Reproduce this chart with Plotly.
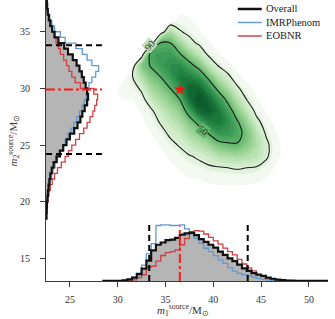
import numpy as np
import plotly.graph_objects as go

# ---------------- data ----------------
bin_width = 0.5
# m1 (primary source mass) marginal histogram, left bin edges 28.5 .. 51.5
m1_bins = [28.5 + 0.5 * i for i in range(47)]
m1_overall = [0.01, 0.01, 0.02, 0.02, 0.05, 0.15, 0.3, 0.6, 1.1, 1.8,
              2.7, 3.2, 3.4, 3.6, 3.65, 3.8, 4.1, 4.2, 4.25, 4.05,
              3.7, 3.45, 3.2, 2.95, 2.6, 2.3, 2.0, 1.75, 1.45, 1.12,
              0.9, 0.7, 0.55, 0.45, 0.3, 0.2, 0.12, 0.07, 0.04, 0.03,
              0.02, 0.02, 0.01, 0.01, 0.01, 0.01, 0.01]
m1_imr = [0.01, 0.01, 0.02, 0.03, 0.06, 0.15, 0.35, 0.7, 1.4, 2.4,
          3.3, 4.9, 4.95, 4.95, 4.9, 4.9, 4.95, 4.6, 4.3, 3.77,
          3.33, 2.89, 2.59, 2.24, 1.86, 1.56, 1.18, 0.88, 0.68, 0.55,
          0.45, 0.35, 0.24, 0.15, 0.1, 0.06, 0.03, 0.02, 0.01, 0.01,
          0.01, 0.01, 0, 0, 0, 0, 0]
m1_eob = [0, 0, 0.01, 0.01, 0.02, 0.05, 0.1, 0.3, 0.55, 1.2,
          1.3, 1.75, 2.25, 2.5, 2.6, 2.75, 3.2, 3.75, 4.35, 4.45,
          4.4, 4.15, 3.85, 3.55, 3.25, 2.9, 2.6, 2.3, 1.9, 1.5,
          1.15, 0.9, 0.6, 0.4, 0.28, 0.18, 0.12, 0.08, 0.05, 0.03,
          0.02, 0.02, 0.01, 0.01, 0.01, 0.01, 0.01]

# m2 (secondary source mass) marginal histogram, lower bin edges 18.5 .. 38.0
m2_bins = [18.5 + 0.5 * i for i in range(40)]
m2_overall = [0.05, 0.07, 0.1, 0.15, 0.2, 0.27, 0.35, 0.45, 0.6, 0.8,
              1.1, 1.45, 1.8, 2.15, 2.5, 2.95, 3.3, 3.6, 3.8, 4.05,
              4.3, 4.4, 4.3, 4.15, 3.95, 3.75, 3.5, 3.2, 2.8, 2.3,
              1.9, 1.3, 0.9, 0.65, 0.45, 0.3, 0.18, 0.12, 0.08, 0.05]
m2_imr = [0.06, 0.1, 0.14, 0.2, 0.27, 0.35, 0.45, 0.6, 0.75, 0.95,
          1.2, 1.5, 1.75, 2.0, 2.3, 2.6, 2.9, 3.2, 3.5, 3.75,
          4.0, 4.2, 4.35, 4.5, 4.8, 5.2, 5.5, 4.8, 4.3, 3.8,
          3.1, 2.0, 1.5, 0.9, 0.6, 0.4, 0.25, 0.15, 0.1, 0.06]
m2_eob = [0.04, 0.08, 0.13, 0.2, 0.3, 0.45, 0.65, 0.9, 1.2, 1.6,
          2.0, 2.35, 2.7, 3.1, 3.5, 3.95, 4.3, 4.6, 4.9, 5.1,
          5.3, 5.4, 5.0, 3.6, 3.05, 2.7, 2.4, 2.15, 1.85, 1.5,
          1.3, 1.05, 0.85, 0.6, 0.45, 0.3, 0.2, 0.12, 0.07, 0.04]

# 90% interval bounds and medians
m1_interval = [33.3, 43.6]
m2_interval = [24.2, 33.8]
m1_median = 36.5
m2_median = 29.9

# 2D posterior density (relative, peak = 100) on a grid
dens_m1 = [28.5 + i for i in range(21)]   # 28.5 .. 48.5
dens_m2 = [20 + j for j in range(18)]     # 20 .. 37
density = [
    # m2 = 20
    [0, 0, 0, 0, 0, 0, 0, 0, 0, 0, 0, 0, 0, 0, 0, 0, 0, 0, 0, 0, 0],
    # 21
    [0, 0, 0, 0, 0, 0, 0, 0, 0, 0, 0.5, 1, 1, 1, 1, 1, 0.5, 0.5, 0, 0, 0],
    # 22
    [0, 0, 0, 0, 0, 0, 0, 0, 1, 2, 2.5, 3.5, 4, 4, 4, 4, 3.5, 2.5, 0.5, 0, 0],
    # 23
    [0, 0, 0, 0, 0, 0, 0, 1.5, 3, 5, 6, 8, 9, 10, 11, 10, 9, 6, 2, 0.5, 0],
    # 24
    [0, 0, 0, 0, 0, 0, 1, 3.5, 6, 9, 12, 16, 22, 25, 27, 25, 21, 12, 4, 1, 0],
    # 25
    [0, 0, 0, 0, 0, 1, 3, 7, 11, 17, 22, 30, 42, 46, 48, 38, 26, 13, 4, 1, 0],
    # 26
    [0, 0, 0, 0, 0, 2.5, 6, 12, 17, 27, 36, 50, 64, 65, 58, 42, 23, 9, 3, 0.5, 0],
    # 27
    [0, 0, 0, 0, 1, 5, 11, 18, 25, 40, 56, 75, 82, 72, 53, 33, 14, 5, 1.5, 0, 0],
    # 28
    [0, 1, 1, 1, 3, 8, 17, 26, 36, 60, 88, 95, 83, 62, 38, 20, 7, 2, 0.5, 0, 0],
    # 29
    [0, 1.5, 2.5, 2.5, 6, 17, 27, 37, 50, 85, 100, 90, 68, 45, 23, 10, 3, 1, 0, 0, 0],
    # 30
    [0, 0, 5, 5, 12, 28, 38, 50, 68, 92, 90, 70, 44, 27, 12, 4, 1, 0, 0, 0, 0],
    # 31
    [0, 0, 0, 9, 24, 40, 50, 63, 80, 78, 68, 45, 24, 13, 4, 1, 0, 0, 0, 0, 0],
    # 32
    [0, 0, 0, 0, 38, 52, 62, 70, 72, 58, 42, 22, 10, 4, 1, 0, 0, 0, 0, 0, 0],
    # 33
    [0, 0, 0, 0, 0, 60, 62, 64, 52, 35, 20, 8, 3, 1, 0, 0, 0, 0, 0, 0, 0],
    # 34
    [0, 0, 0, 0, 0, 0, 52, 50, 30, 14, 8, 3, 1, 0, 0, 0, 0, 0, 0, 0, 0],
    # 35
    [0, 0, 0, 0, 0, 0, 0, 25, 11, 7, 3, 1, 0, 0, 0, 0, 0, 0, 0, 0, 0],
    # 36
    [0, 0, 0, 0, 0, 0, 0, 0, 5, 3, 1, 0, 0, 0, 0, 0, 0, 0, 0, 0, 0],
    # 37
    [0, 0, 0, 0, 0, 0, 0, 0, 0, 1, 0, 0, 0, 0, 0, 0, 0, 0, 0, 0, 0],
]
credible_levels = [50, 90]
credible_labels = ["90", "50"]

series_names = ["Overall", "IMRPhenom", "EOBNR"]

# ---------------- styles ----------------
FONT = "Liberation Serif"
C_BLACK = "#111111"
C_BLUE = "#6399d0"
C_RED = "#cf4044"
C_FILL = "#b5b5b5"
AX = "#3a3a3a"
TXT = "#333333"
M1_BASE = 13.0        # baseline of the m1 marginal (bottom of panel)
M2_BASE = 22.5        # baseline of the m2 marginal (left of panel)
M1_LINE_TOP = 5.0     # height of interval markers on m1 marginal
M2_LINE_LEN = 5.85    # length of interval markers on m2 marginal


def vstep(edges, heights):
    xs = [edges[0]] + list(edges) + [edges[-1] + bin_width]
    ys = [M1_BASE] + [M1_BASE + h for h in heights] + [M1_BASE]
    return xs, ys


def hstep(edges, widths):
    ys = [edges[0]] + list(edges) + [edges[-1] + bin_width]
    xs = [M2_BASE] + [M2_BASE + w for w in widths] + [M2_BASE]
    return xs, ys


fig = go.Figure()

colorscale = [
    [0.0, "rgba(255,255,255,0)"],
    [0.02, "#f4faf1"],
    [0.10, "#d8efd2"],
    [0.25, "#aedca6"],
    [0.40, "#80c680"],
    [0.50, "#5db46b"],
    [0.65, "#3a9a55"],
    [0.80, "#1f7f40"],
    [1.0, "#0a5a2a"],
]
z = np.array(density, dtype=float)
fig.add_trace(go.Contour(
    x=dens_m1, y=dens_m2, z=z, zmin=0, zmax=100, zauto=False,
    colorscale=colorscale, showscale=False,
    contours=dict(start=2.5, end=100, size=4.5, coloring="fill", showlines=False),
    line=dict(width=0, smoothing=1.0), hoverinfo="skip", showlegend=False))

fig.add_trace(go.Contour(
    x=dens_m1, y=dens_m2, z=100 - z, showscale=False,
    contours=dict(start=credible_levels[0], end=credible_levels[1],
                  size=credible_levels[1] - credible_levels[0],
                  coloring="none", showlabels=False),
    line=dict(color="#1a1a1a", width=1.1, smoothing=1.0),
    hoverinfo="skip", showlegend=False))

# gray fill of the overall marginals
xs, ys = vstep(m1_bins, m1_overall)
fig.add_trace(go.Scatter(x=xs, y=ys, mode="lines", fill="toself", fillcolor=C_FILL,
                         line=dict(width=0, shape="hv"), hoverinfo="skip", showlegend=False))
xs, ys = hstep(m2_bins, m2_overall)
fig.add_trace(go.Scatter(x=xs, y=ys, mode="lines", fill="toself", fillcolor=C_FILL,
                         line=dict(width=0, shape="vh"), hoverinfo="skip", showlegend=False))

# outline step lines
specs = [(m1_imr, m2_imr, C_BLUE, 1.3, series_names[1]),
         (m1_eob, m2_eob, C_RED, 1.3, series_names[2]),
         (m1_overall, m2_overall, C_BLACK, 2.2, series_names[0])]
for h1, h2, col, lw, name in specs:
    xs, ys = vstep(m1_bins, h1)
    fig.add_trace(go.Scatter(x=xs, y=ys, mode="lines", name=name,
                             line=dict(color=col, width=lw, shape="hv"),
                             showlegend=False, hoverinfo="skip"))
    xs, ys = hstep(m2_bins, h2)
    fig.add_trace(go.Scatter(x=xs, y=ys, mode="lines", name=name,
                             line=dict(color=col, width=lw, shape="vh"),
                             showlegend=False, hoverinfo="skip"))

# interval markers
for q in m1_interval:
    fig.add_trace(go.Scatter(x=[q, q], y=[M1_BASE, M1_BASE + M1_LINE_TOP], mode="lines",
                             line=dict(color="black", width=2, dash="6px,4px"),
                             showlegend=False, hoverinfo="skip"))
for q in m2_interval:
    fig.add_trace(go.Scatter(x=[M2_BASE, M2_BASE + M2_LINE_LEN], y=[q, q], mode="lines",
                             line=dict(color="black", width=2, dash="6px,4px"),
                             showlegend=False, hoverinfo="skip"))
fig.add_trace(go.Scatter(x=[m1_median, m1_median], y=[M1_BASE, M1_BASE + M1_LINE_TOP - 0.2],
                         mode="lines", line=dict(color="#ff1a1a", width=2, dash="dashdot"),
                         showlegend=False, hoverinfo="skip"))
fig.add_trace(go.Scatter(x=[M2_BASE, M2_BASE + M2_LINE_LEN], y=[m2_median, m2_median],
                         mode="lines", line=dict(color="#ff1a1a", width=2, dash="dashdot"),
                         showlegend=False, hoverinfo="skip"))

# median star
fig.add_trace(go.Scatter(x=[m1_median], y=[m2_median], mode="markers",
                         marker=dict(symbol="star", size=9, color="#ff1010", line=dict(width=0)),
                         showlegend=False, hoverinfo="skip"))

annotations = []
shapes = []
# contour level labels, drawn on the contour lines
annotations.append(dict(x=33.35, y=33.75, xref="x", yref="y", text=credible_labels[0],
                        showarrow=False, textangle=-49,
                        font=dict(family=FONT, size=10, color=TXT),
                        bgcolor="rgba(190,228,184,0.95)", borderpad=0))
annotations.append(dict(x=38.95, y=26.3, xref="x", yref="y", text=credible_labels[1],
                        showarrow=False, textangle=33,
                        font=dict(family=FONT, size=10, color=TXT),
                        bgcolor="rgba(96,182,106,0.95)", borderpad=0))

# legend (line samples + labels)
leg_y = [0.968, 0.920, 0.872]
for name, col, lw, yy in [(series_names[0], C_BLACK, 2.5, leg_y[0]),
                          (series_names[1], C_BLUE, 1.5, leg_y[1]),
                          (series_names[2], C_RED, 1.5, leg_y[2])]:
    shapes.append(dict(type="line", xref="paper", yref="paper", x0=0.680, x1=0.765,
                       y0=yy, y1=yy, line=dict(color=col, width=lw)))
    annotations.append(dict(x=0.772, y=yy, xref="paper", yref="paper", text=name,
                            showarrow=False, xanchor="left", yanchor="middle",
                            font=dict(family=FONT, size=10.5, color="#222222")))

# axis titles
annotations.append(dict(x=0.485, y=-0.068, xref="paper", yref="paper",
                        text="<i>m</i><sub>1</sub><sup>source</sup>/M<sub>⊙</sub>",
                        showarrow=False, xanchor="center", yanchor="top",
                        font=dict(family=FONT, size=11, color=TXT)))
annotations.append(dict(x=-0.117, y=0.5, xref="paper", yref="paper",
                        text="<i>m</i><sub>2</sub><sup>source</sup>/M<sub>⊙</sub>",
                        showarrow=False, xanchor="center", yanchor="middle", textangle=-90,
                        font=dict(family=FONT, size=11, color=TXT)))

tickfont = dict(family=FONT, size=10, color=TXT)
fig.update_xaxes(range=[22.5, 52], showline=True, linecolor=AX, linewidth=1,
                 ticks="outside", ticklen=5, tickcolor=AX, tickwidth=1,
                 tickvals=[25, 30, 35, 40, 45, 50], showgrid=False, zeroline=False,
                 tickfont=tickfont, automargin=False, ticklabelstandoff=4)
fig.update_yaxes(range=[13, 37.8], showline=True, linecolor=AX, linewidth=1,
                 ticks="outside", ticklen=5, tickcolor=AX, tickwidth=1,
                 tickvals=[15, 20, 25, 30, 35], showgrid=False, zeroline=False,
                 tickfont=tickfont, automargin=False, ticklabelstandoff=8)

fig.update_layout(
    width=335, height=319,
    margin=dict(l=46, r=7, t=0, b=38),
    paper_bgcolor="white", plot_bgcolor="white",
    showlegend=False,
    annotations=annotations, shapes=shapes,
)

fig.write_html("out.html", config={"displayModeBar": False},
               post_script="document.body.style.margin='0';")
